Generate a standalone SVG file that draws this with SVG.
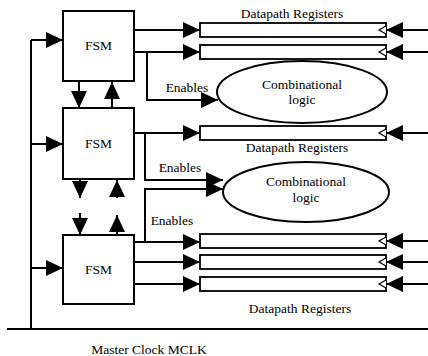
<svg xmlns="http://www.w3.org/2000/svg" width="428" height="356" viewBox="0 0 428 356">
<style>
.box{fill:#fff;stroke:#000;stroke-width:2}
.reg{fill:#fff;stroke:#000;stroke-width:1.8}
.clk{fill:#fff;stroke:#000;stroke-width:1.2}
.ln{fill:none;stroke:#000;stroke-width:2}
.arr{fill:none;stroke:#000;stroke-width:2;marker-end:url(#ah)}
text{font-family:"Liberation Serif","Times New Roman",serif;font-size:13.5px;fill:#000}
.c{text-anchor:middle}
</style>
<defs>
<marker id="ah" viewBox="0 0 17 16" refX="17" refY="8" markerWidth="17" markerHeight="16" markerUnits="userSpaceOnUse" orient="auto">
<path d="M0,0 L17,8 L0,16 Z" fill="#000"/>
</marker>
</defs>
<g id="connectors">
<path class="ln" d="M31,40 V329"/>
<path class="ln" d="M7,329 H428"/>
<path class="arr" d="M31,40 H63"/>
<path class="arr" d="M31,144 H63"/>
<path class="arr" d="M31,268 H63"/>
<path class="arr" d="M134,30 H200"/>
<path class="arr" d="M134,52 H200"/>
<path class="arr" d="M147,52 V100 H218"/>
<path class="arr" d="M134,133 H200"/>
<path class="arr" d="M145,133 V180 H223"/>
<path class="arr" d="M134,242 H200"/>
<path class="arr" d="M134,262 H200"/>
<path class="arr" d="M134,284 H200"/>
<path class="arr" d="M145,242 V189 H223"/>
<path class="arr" d="M428,30 H386"/>
<path class="arr" d="M428,52 H386"/>
<path class="arr" d="M428,133 H386"/>
<path class="arr" d="M428,241 H386"/>
<path class="arr" d="M428,262 H386"/>
<path class="arr" d="M428,284 H386"/>
<path class="arr" d="M79,81 V108"/>
<path class="arr" d="M112,108 V82"/>
<path class="arr" d="M80,179 V198"/>
<path class="arr" d="M117,198 V180"/>
<path class="arr" d="M80,213 V235"/>
<path class="arr" d="M117,235 V215"/>
</g>
<g id="fsm1"><rect class="box" x="63" y="11" width="71" height="70"/><text class="c" x="98.5" y="50">FSM</text></g>
<g id="fsm2"><rect class="box" x="63" y="108" width="71" height="71"/><text class="c" x="98.5" y="148">FSM</text></g>
<g id="fsm3"><rect class="box" x="63" y="235" width="71" height="69"/><text class="c" x="98.5" y="274">FSM</text></g>
<g id="reg1"><rect class="reg" x="200" y="23" width="186" height="14"/><polyline class="clk" points="386,26 379,30 386,34"/></g>
<g id="reg2"><rect class="reg" x="200" y="45" width="186" height="14"/><polyline class="clk" points="386,48 379,52 386,56"/></g>
<g id="reg3"><rect class="reg" x="200" y="126" width="186" height="14"/><polyline class="clk" points="386,129 379,133 386,137"/></g>
<g id="reg4"><rect class="reg" x="200" y="234" width="186" height="14"/><polyline class="clk" points="386,237 379,241 386,245"/></g>
<g id="reg5"><rect class="reg" x="200" y="255" width="186" height="14"/><polyline class="clk" points="386,258 379,262 386,266"/></g>
<g id="reg6"><rect class="reg" x="200" y="277" width="186" height="14"/><polyline class="clk" points="386,280 379,284 386,288"/></g>
<g id="comb1"><ellipse class="box" cx="302" cy="92" rx="85" ry="31"/><text class="c" x="302" y="89">Combinational</text><text class="c" x="302" y="104">logic</text></g>
<g id="comb2"><ellipse class="box" cx="306" cy="192" rx="83" ry="30"/><text class="c" x="306" y="186">Combinational</text><text class="c" x="306" y="202">logic</text></g>
<g id="labels">
<text class="c" x="292" y="18">Datapath Registers</text>
<text class="c" x="297" y="152">Datapath Registers</text>
<text class="c" x="300" y="313">Datapath Registers</text>
<text class="c" x="187" y="92">Enables</text>
<text class="c" x="180" y="172">Enables</text>
<text class="c" x="172" y="225">Enables</text>
<text class="c" x="149" y="354">Master Clock MCLK</text>
</g>
</svg>
